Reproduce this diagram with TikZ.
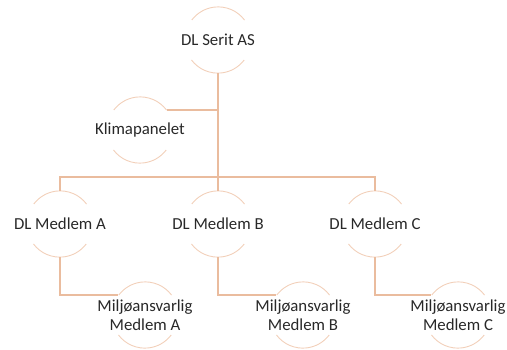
\documentclass[tikz,border=0pt]{standalone}
\usepackage{fontspec}
\setmainfont{Carlito}
\definecolor{arcc}{RGB}{242,208,186}
\definecolor{linec}{RGB}{234,188,158}
\definecolor{txt}{RGB}{40,40,40}
\begin{document}
\begin{tikzpicture}[x=1pt,y=-1pt,
  ring/.style={circle, minimum size=66pt, inner sep=0pt, draw=none},
  lbl/.style={font=\fontsize{16.8}{18.5}\selectfont, text=txt, align=center, inner sep=0pt},
  arcline/.style={draw=arcc, line width=0.9pt},
  conn/.style={draw=linec, line width=1.1pt}]
\useasboundingbox (0,0) rectangle (507,349);
% ring placeholders
\node[ring] (r0) at (218,40) {};
\node[ring] (rk) at (140,130) {};
\node[ring] (ra) at (60,224) {};
\node[ring] (rb) at (218,224) {};
\node[ring] (rc) at (375,224) {};
\node[ring] (sa) at (145,315) {};
\node[ring] (sb) at (303,315) {};
\node[ring] (sc) at (458,315) {};
% arcs
\foreach \n in {r0,rk,ra,rb,rc,sa,sb,sc}{
  \draw[arcline] (\n.37) arc[start angle=37, end angle=143, radius=33pt];
  \draw[arcline] (\n.217) arc[start angle=217, end angle=323, radius=33pt];
}
% labels
\node[lbl] (t0) at (r0) {DL Serit AS};
\node[lbl] (tk) at (rk) {Klimapanelet};
\node[lbl] (ta) at (ra) {DL Medlem A};
\node[lbl] (tb) at (rb) {DL Medlem B};
\node[lbl] (tc) at (rc) {DL Medlem C};
\node[lbl] (ua) at (sa) {Miljøansvarlig\\Medlem A};
\node[lbl] (ub) at (sb) {Miljøansvarlig\\Medlem B};
\node[lbl] (uc) at (sc) {Miljøansvarlig\\Medlem C};
% connectors
\coordinate (bus) at (218,177);
\draw[conn] (r0.south) -- (rb.north);
\draw[conn] (rk.37) -- (rk.37 -| r0.south);
\draw[conn] (ra.north) |- (bus) -| (rc.north);
\draw[conn] (ra.south) |- (sa.143);
\draw[conn] (rb.south) |- (sb.143);
\draw[conn] (rc.south) |- (sc.143);
\end{tikzpicture}
\end{document}
